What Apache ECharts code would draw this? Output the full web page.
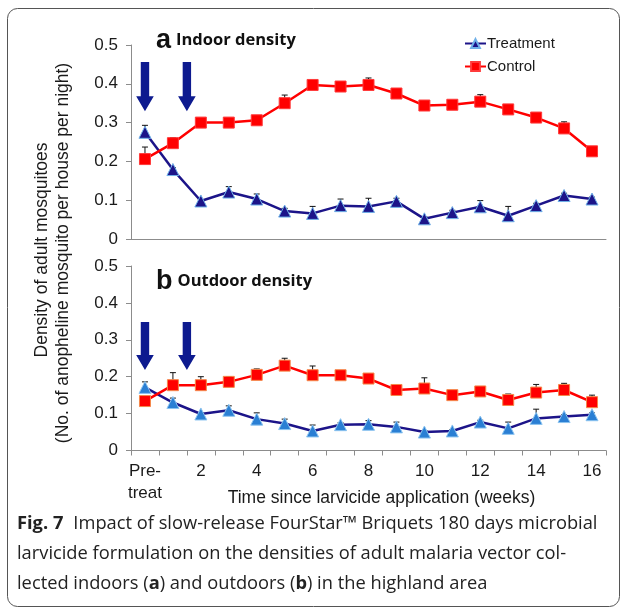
<!DOCTYPE html>
<html>
<head>
<meta charset="utf-8">
<script src="https://cdn.jsdelivr.net/npm/echarts@6/dist/echarts.min.js"></script>
<style>
html, body { margin: 0; padding: 0; background: #fff; }
#chart { width: 626px; height: 609px; }
</style>
</head>
<body>
<div id="chart"></div>
<script>
// weeks since larvicide application
var weeks = ['Pre-\ntreat', '1', '2', '3', '4', '5', '6', '7', '8', '9', '10', '11', '12', '13', '14', '15', '16'];
var yTicks = [0, 0.1, 0.2, 0.3, 0.4, 0.5];

// (a) indoor density
var indoorTreatment = [0.275, 0.179, 0.098, 0.121, 0.103, 0.072, 0.066, 0.086, 0.084, 0.097, 0.052, 0.068, 0.083, 0.060, 0.086, 0.112, 0.103];
var indoorTreatmentSE = [0.018, 0.005, 0.004, 0.014, 0.013, 0.007, 0.018, 0.017, 0.021, 0.008, 0.005, 0.006, 0.016, 0.024, 0.006, 0.006, 0.005];
var indoorControl = [0.206, 0.247, 0.300, 0.300, 0.306, 0.350, 0.397, 0.393, 0.397, 0.375, 0.344, 0.346, 0.354, 0.334, 0.313, 0.285, 0.226];
var indoorControlSE = [0.031, 0.014, 0.005, 0.005, 0.005, 0.021, 0.005, 0.005, 0.018, 0.008, 0.005, 0.005, 0.018, 0.005, 0.005, 0.017, 0.005];

// (b) outdoor density
var outdoorTreatment = [0.171, 0.130, 0.099, 0.109, 0.085, 0.073, 0.053, 0.070, 0.071, 0.064, 0.050, 0.053, 0.077, 0.060, 0.087, 0.092, 0.097];
var outdoorTreatmentSE = [0.015, 0.012, 0.004, 0.012, 0.017, 0.012, 0.016, 0.005, 0.010, 0.013, 0.004, 0.004, 0.005, 0.017, 0.025, 0.005, 0.005];
var outdoorControl = [0.134, 0.177, 0.177, 0.186, 0.205, 0.230, 0.204, 0.204, 0.195, 0.164, 0.168, 0.150, 0.160, 0.137, 0.157, 0.164, 0.131];
var outdoorControlSE = [0.004, 0.034, 0.023, 0.014, 0.016, 0.020, 0.025, 0.005, 0.005, 0.005, 0.029, 0.005, 0.005, 0.016, 0.022, 0.018, 0.019];

// arrows: category position and value range (top, tip) for each panel
var arrowX = [0, 1.5];
var arrowIndoor = [0.456, 0.329];
var arrowOutdoor = [0.348, 0.218];

var axisFont = 'Liberation Sans, Arial, sans-serif';
var capFont = 'Open Sans, Noto Sans, sans-serif';
var navy = '#1c1489';
var red = '#ff0000';

function errData(vals, se) {
  return vals.map(function (v, i) { return [i, v, v + se[i]]; });
}

function errRender(params, api) {
  var p1 = api.coord([api.value(0), api.value(1)]);
  var p2 = api.coord([api.value(0), api.value(2)]);
  return {
    type: 'group',
    children: [
      { type: 'line', shape: { x1: p1[0], y1: p1[1], x2: p2[0], y2: p2[1] }, style: { stroke: '#111', lineWidth: 1 } },
      { type: 'line', shape: { x1: p2[0] - 3, y1: p2[1], x2: p2[0] + 3, y2: p2[1] }, style: { stroke: '#111', lineWidth: 1 } }
    ]
  };
}

function yAxis(gi) {
  return {
    type: 'value', gridIndex: gi, min: 0, max: 0.5, interval: 0.1,
    axisLine: { show: true, lineStyle: { color: '#8c8c8c', width: 1 } },
    axisTick: { show: true, length: 5, lineStyle: { color: '#8c8c8c' } },
    splitLine: { show: false },
    axisLabel: { color: '#1a1a1a', fontSize: 17, fontFamily: axisFont, margin: 13 }
  };
}

function errSeries(name, gi, vals, se) {
  return {
    type: 'custom', name: name + ' SE', xAxisIndex: gi, yAxisIndex: gi, z: 1,
    renderItem: errRender, data: errData(vals, se), silent: true
  };
}

function lineSeries(name, gi, vals, symbol, fill, border) {
  return {
    type: 'line', name: name, xAxisIndex: gi, yAxisIndex: gi, z: 3,
    data: vals, symbol: symbol, symbolSize: symbol === 'rect' ? 11 : 12,
    lineStyle: { color: symbol === 'rect' ? red : navy, width: 2.5 },
    itemStyle: { color: fill, borderColor: border, borderWidth: 1 },
    animation: false
  };
}

var chart = echarts.init(document.getElementById('chart'));

var option = {
  backgroundColor: '#fff',
  animation: false,
  title: [
    {
      left: 151, top: 22,
      text: '{a|a} {t|Indoor density}',
      textStyle: {
        rich: {
          a: { fontFamily: axisFont, fontWeight: 'bold', fontSize: 27, color: '#111' },
          t: { fontFamily: capFont, fontWeight: 'bold', fontSize: 16.5, color: '#111' }
        }
      }
    },
    {
      left: 151, top: 263,
      text: '{a|b} {t|Outdoor density}',
      textStyle: {
        rich: {
          a: { fontFamily: axisFont, fontWeight: 'bold', fontSize: 27, color: '#111' },
          t: { fontFamily: capFont, fontWeight: 'bold', fontSize: 16.5, color: '#111' }
        }
      }
    },
    {
      left: 12, top: 504,
      text: '{b|Fig. 7}  {n|Impact of slow-release FourStar™ Briquets 180 days microbial}\n' +
            '{n|larvicide formulation on the densities of adult malaria vector col-}\n' +
            '{n|lected indoors (}{b2|a}{n|) and outdoors (}{b2|b}{n|) in the highland area}',
      textStyle: {
        lineHeight: 30, fontWeight: 'normal',
        rich: {
          b: { fontFamily: capFont, fontWeight: 'bold', fontSize: 18.3, color: '#222', lineHeight: 30 },
          b2: { fontFamily: capFont, fontWeight: 'bold', fontSize: 18.3, color: '#222', lineHeight: 30 },
          n: { fontFamily: capFont, fontWeight: 'normal', fontSize: 18.3, color: '#222', lineHeight: 30 }
        }
      }
    }
  ],
  legend: {
    orient: 'vertical', left: 459, top: 31, itemGap: 8,
    itemWidth: 21, itemHeight: 11,
    data: ['Treatment', 'Control'],
    textStyle: { fontFamily: axisFont, fontSize: 15, color: '#1a1a1a', padding: [0, 0, 0, -4] }
  },
  grid: [
    { left: 131, right: 20, top: 45, height: 194 },
    { left: 131, right: 20, top: 266, height: 184.5 }
  ],
  xAxis: [
    {
      type: 'category', gridIndex: 0, data: weeks, boundaryGap: true,
      axisLine: { lineStyle: { color: '#8c8c8c' } },
      axisTick: { show: false }, axisLabel: { show: false }
    },
    {
      type: 'category', gridIndex: 1, data: weeks, boundaryGap: true,
      name: 'Time since larvicide application (weeks)', nameLocation: 'middle', nameGap: 39,
      nameMoveOverlap: false,
      nameTextStyle: { fontFamily: axisFont, fontSize: 17.5, color: '#1a1a1a', padding: [0, 0, 0, 26] },
      axisLine: { lineStyle: { color: '#8c8c8c' } },
      axisTick: { show: true, length: 5, alignWithLabel: false, interval: 0, lineStyle: { color: '#8c8c8c' } },
      axisLabel: { interval: 1, fontFamily: axisFont, fontSize: 17, color: '#1a1a1a', margin: 10, lineHeight: 22 }
    }
  ],
  yAxis: [yAxis(0), yAxis(1)],
  series: [
    errSeries('Treatment', 0, indoorTreatment, indoorTreatmentSE),
    errSeries('Control', 0, indoorControl, indoorControlSE),
    errSeries('Treatment', 1, outdoorTreatment, outdoorTreatmentSE),
    errSeries('Control', 1, outdoorControl, outdoorControlSE),
    lineSeries('Treatment', 0, indoorTreatment, 'triangle', navy, '#6fb0e8'),
    lineSeries('Control', 0, indoorControl, 'rect', red, '#ff3a3a'),
    lineSeries('Treatment', 1, outdoorTreatment, 'triangle', '#2a7fd4', '#8cc4f0'),
    lineSeries('Control', 1, outdoorControl, 'rect', red, '#f5884a')
  ]
};

chart.setOption(option);

// arrows and frame drawn after layout, positioned via the axes
function arrowShape(cx, yTop, yTip) {
  var sw = 4.2, hw = 8.8, hh = 15;
  return [[cx - sw, yTop], [cx + sw, yTop], [cx + sw, yTip - hh], [cx + hw, yTip - hh],
          [cx, yTip], [cx - hw, yTip - hh], [cx - sw, yTip - hh]];
}

function catPixel(gi, pos) {
  var a = chart.convertToPixel({ gridIndex: gi }, [Math.floor(pos), 0])[0];
  var b = chart.convertToPixel({ gridIndex: gi }, [Math.ceil(pos), 0])[0];
  return a + (b - a) * (pos - Math.floor(pos));
}

var graphics = [];
[[0, arrowIndoor], [1, arrowOutdoor]].forEach(function (pr) {
  var gi = pr[0], rng = pr[1];
  arrowX.forEach(function (ax) {
    var cx = catPixel(gi, ax);
    var yTop = chart.convertToPixel({ gridIndex: gi }, [0, rng[0]])[1];
    var yTip = chart.convertToPixel({ gridIndex: gi }, [0, rng[1]])[1];
    graphics.push({
      type: 'polygon', z: 10,
      shape: { points: arrowShape(cx, yTop, yTip) },
      style: { fill: '#0d1a8f' }
    });
  });
});

graphics.push({
  type: 'rect', z: 0, silent: true,
  shape: { x: 7.5, y: 8.5, width: 612, height: 598, r: 10 },
  style: { fill: 'none', stroke: '#555', lineWidth: 1 }
});
graphics.push({
  type: 'text', z: 10,
  x: 42, y: 250, rotation: Math.PI / 2,
  style: { text: 'Density of adult mosquitoes', fontFamily: axisFont, fontSize: 17.5, fill: '#1a1a1a', align: 'center', verticalAlign: 'middle' }
});
graphics.push({
  type: 'text', z: 10,
  x: 63, y: 253, rotation: Math.PI / 2,
  style: { text: '(No. of anopheline mosquito per house per night)', fontFamily: axisFont, fontSize: 17.5, fill: '#1a1a1a', align: 'center', verticalAlign: 'middle' }
});

chart.setOption({ graphic: graphics });
</script>
</body>
</html>
